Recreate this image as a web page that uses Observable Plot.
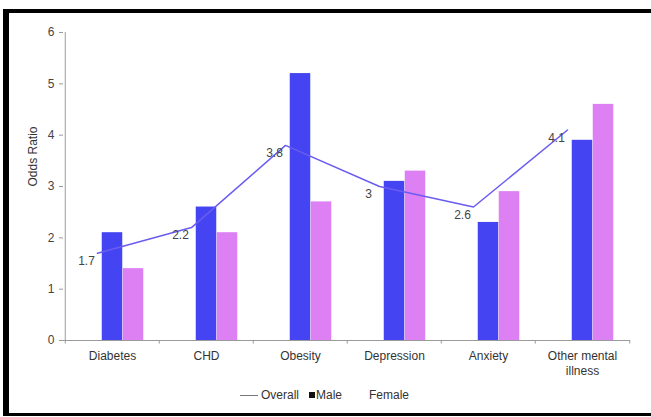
<!DOCTYPE html>
<html>
<head>
<meta charset="utf-8">
<script src="https://cdn.jsdelivr.net/npm/d3@7"></script>
<script src="https://cdn.jsdelivr.net/npm/@observablehq/plot@0.6"></script>
<style>
  html, body { margin: 0; padding: 0; background: #fff; overflow: hidden; }
  body { width: 651px; height: 417px; position: relative; font-family: "Liberation Sans", Arial, sans-serif; }
  #chart { position: absolute; left: 0; top: 0; }
  #frame {
    position: absolute; left: 3px; top: 9px; width: 720px; height: 407px;
    box-sizing: border-box; border-left: 6px solid #000; border-top: 4px solid #000;
    border-bottom: 3px solid #000; pointer-events: none;
  }
  #legend { position: absolute; top: 388px; left: 0; width: 651px; height: 14px; font-size: 12px; color: #333; }
  #legend span { position: absolute; top: 0; line-height: 14px; }
  .swatch-line { width: 18px; height: 0; border-top: 1px solid #777; top: 7px !important; }
  .swatch-box { width: 6px; height: 6px; background: #111; top: 4px !important; }
</style>
</head>
<body>
<div id="chart"></div>
<div id="legend">
  <span class="swatch-line" style="left:240px"></span>
  <span style="left:261px">Overall</span>
  <span class="swatch-box" style="left:309px"></span>
  <span style="left:316px">Male</span>
  <span style="left:369px">Female</span>
</div>
<div id="frame"></div>
<script>
// Odds ratios by condition
const categories = ["Diabetes", "CHD", "Obesity", "Depression", "Anxiety", "Other mental illness"];
const overall = [1.7, 2.2, 3.8, 3.0, 2.6, 4.1];
const male = [2.1, 2.6, 5.2, 3.1, 2.3, 3.9];
const female = [1.4, 2.1, 2.7, 3.3, 2.9, 4.6];
const overallLabels = ["1.7", "2.2", "3.8", "3", "2.6", "4.1"];
const yTicks = [0, 1, 2, 3, 4, 5, 6];

const rows = categories.map((c, i) => ({
  cat: c, overall: overall[i], male: male[i], female: female[i], label: overallLabels[i]
}));

const W = 651, H = 417;
const mL = 63, mR = 21, mT = 32, mB = 77;
const bw = (W - mL - mR) / categories.length; // band width per category
const slot = 21; // width of one bar slot (three slots: overall, male, female)

const blue = "#4444f2";
const violet = "#dd80f4";
const lineColor = "#6a5cf0";
const axisGray = "#9a9a9a";

const chart = Plot.plot({
  width: W,
  height: H,
  marginLeft: mL,
  marginRight: mR,
  marginTop: mT,
  marginBottom: mB,
  style: { fontFamily: "Liberation Sans, Arial, sans-serif", fontSize: "12px", color: "#333", background: "transparent" },
  x: { type: "band", domain: categories, paddingInner: 0, paddingOuter: 0 },
  y: { domain: [0, 6] },
  marks: [
    // male bars: middle slot
    Plot.barY(rows, {
      x: "cat", y: "male", fill: blue,
      insetLeft: bw / 2 - slot / 2, insetRight: bw / 2 - slot / 2
    }),
    // female bars: right slot
    Plot.barY(rows, {
      x: "cat", y: "female", fill: violet,
      insetLeft: bw / 2 + slot / 2, insetRight: bw / 2 - slot * 1.5
    }),
    // axis lines
    Plot.ruleY([0], { stroke: axisGray }),
    Plot.ruleX([categories[0]], { x: d => d, y1: 0, y2: 6, dx: -bw / 2, stroke: axisGray }),
    // category boundary ticks below the x axis
    Plot.ruleX(categories, { x: d => d, y1: 0, y2: -0.07, dx: -bw / 2, stroke: axisGray }),
    Plot.ruleX([categories[categories.length - 1]], { x: d => d, y1: 0, y2: -0.07, dx: bw / 2, stroke: axisGray }),
    Plot.axisY({
      ticks: yTicks, tickFormat: d3.format("d"), tickSize: 4, tickPadding: 5, stroke: axisGray,
      fontSize: 12, fill: "#444", label: null
    }),
    Plot.axisX({
      tickSize: 0, tickPadding: 9, fontSize: 12, fill: "#333", label: null,
      lineHeight: 1.25,
      tickFormat: d => d === "Other mental illness" ? "Other mental\nillness" : d
    }),
    // overall line
    Plot.line(rows, { x: "cat", y: "overall", dx: -15, stroke: lineColor, strokeWidth: 1.5 }),
    Plot.text(rows, {
      x: "cat", y: "overall", text: "label", dx: -26, dy: 8,
      fontSize: 12, fill: "#444", textAnchor: "middle"
    }),
    // y axis title
    Plot.text(["Odds Ratio"], {
      frameAnchor: "left", dx: -30, rotate: -90, fontSize: 12, fill: "#333"
    })
  ]
});

document.getElementById("chart").appendChild(chart);
</script>
</body>
</html>
